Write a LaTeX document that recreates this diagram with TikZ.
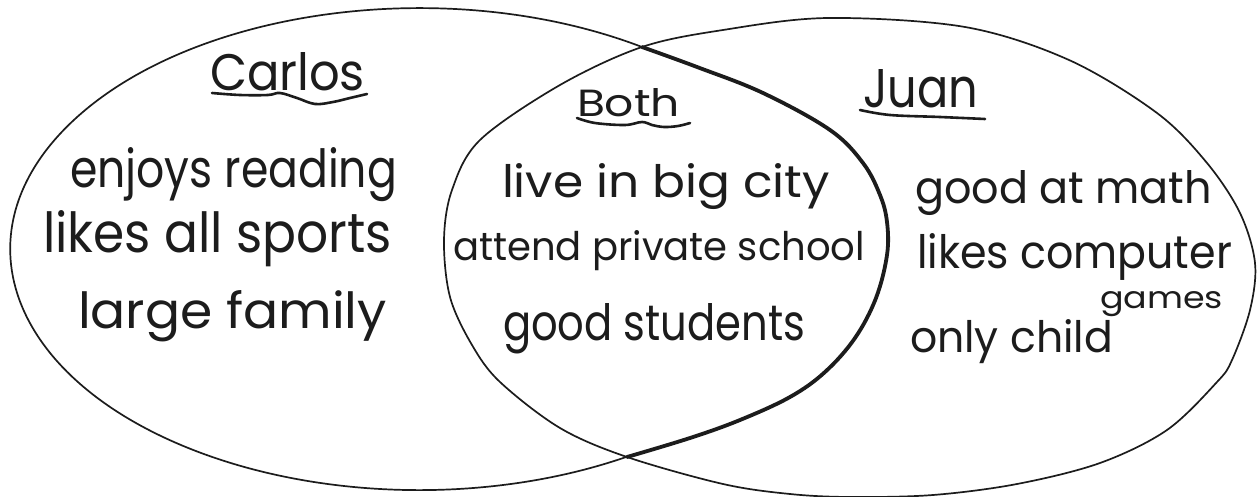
\documentclass[tikz,border=0pt]{standalone}
\usepackage{fontspec}
\setmainfont{Poppins}
\usepackage{graphicx}
\definecolor{ink}{HTML}{1C1C1C}
% a handwritten line: width, height above the baseline, text
\newcommand\handline[3]{\resizebox{#1pt}{#2pt}{\fontsize{40}{40}\selectfont #3}}
\begin{document}
\begin{tikzpicture}[x=1pt,y=-1pt,
  pen/.style={draw=ink, line cap=round, line join=round},
  thinline/.style={pen, line width=1.7pt},
  boldline/.style={pen, line width=3.8pt},
  inkline/.style={pen, line width=2.6pt},
  hand/.style={anchor=base west, inner sep=0pt, outer sep=0pt, text=ink}]
\fill[white] (0,0) rectangle (1260,497);
\useasboundingbox (0,0) rectangle (1260,497);

% where the two circles cross
\coordinate (topX) at (642,47);
\coordinate (botX) at (627,457);

% Carlos: thin outer arc, round the left side
\draw[thinline] (topX) arc[start angle=-57, end angle=-300.5, x radius=409, y radius=241];
% Carlos: the retraced right side, bold
\draw[boldline] plot[smooth, tension=0.6] coordinates {
  (627,457) (690,438) (740,420) (790,397) (825,372) (855,338) (876,298)
  (887,255) (887,222) (880,195) (863,163) (830,130) (763,93) (697,67) (642,47)};

% Juan
\draw[thinline] plot[smooth cycle, tension=0.55] coordinates {
  (642,47) (723,30) (828,18) (965,27) (1069,60) (1157,113) (1207,163)
  (1240,213) (1255,263) (1250,310) (1232,360) (1217,382) (1167,430)
  (1100,463) (1017,484) (933,495) (850,497) (790,494) (723,484) (627,457)
  (560,428) (500,382) (472,345) (450,297) (444,240) (452,190) (480,140) (560,85)};

% headings
\node[hand] (carlos) at (210,91) {\handline{155}{38}{Carlos}};
\node[hand] (both) at (577,117) {\handline{103}{28}{Both}};
\node[hand] (juan) at (863,108) {\handline{115}{38}{Juan}};

\draw[inkline] plot[smooth, tension=0.6] coordinates {
  (212,93) (240,95) (268,95) (280,93) (297,98) (315,104) (333,102) (350,98) (367,94)};
\draw[inkline] plot[smooth, tension=0.6] coordinates {
  (577,118) (595,123) (625,125) (642,122) (652,125) (664,127) (678,126) (690,123)};
\draw[inkline] plot[smooth, tension=0.6] coordinates {
  (860,110) (890,115) (940,117) (985,119)};

% Carlos only
\node[hand] (c1) at (70,187) {\handline{327}{40}{enjoys reading}};
\node[hand] (c2) at (43,252) {\handline{349}{42}{likes all sports}};
\node[hand] (c3) at (78,328) {\handline{309}{38}{large family}};

% both
\node[hand] (b1) at (502,197) {\handline{328}{34}{live in big city}};
\node[hand] (b2) at (453,260) {\handline{412}{30}{attend private school}};
\node[hand] (b3) at (503,340) {\handline{302}{37}{good students}};

% Juan only
\node[hand] (j1) at (915,203) {\handline{297}{33}{good at math}};
\node[hand] (j2) at (917,268) {\handline{315}{35}{likes computer}};
\node[hand] (j3) at (1100,308) {\handline{123}{17}{games}};
\node[hand] (j4) at (910,352) {\handline{203}{33}{only child}};
\end{tikzpicture}
\end{document}
